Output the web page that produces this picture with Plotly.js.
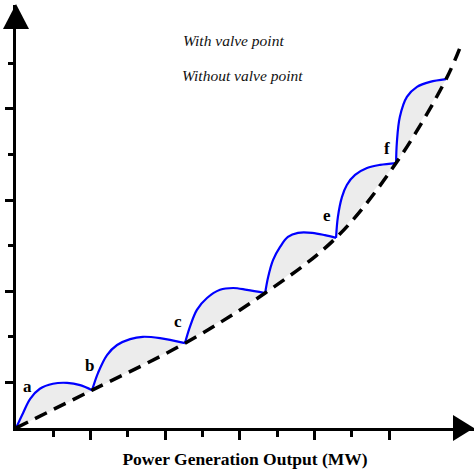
<!DOCTYPE html>
<html>
<head>
<meta charset="utf-8">
<script src="https://cdn.plot.ly/plotly-3.0.1.min.js"></script>
<style>html,body{margin:0;padding:0;background:#fff;}#chart{width:474px;height:473px;}</style>
</head>
<body>
<div id="chart"></div>
<script>
// Cost curve without valve point effect (dashed)
var dashX = [0, 2.04, 4.53, 6.68, 8.58, 10.19, 11.53, 11.96];
var dashY = [0, 0.83, 1.86, 2.96, 4.17, 5.81, 7.65, 8.46];

// Cost curve with valve point effect (blue), valve points shared with dashed curve
var blueX = [0, 0.19, 0.38, 0.64, 0.99, 1.37, 1.72, 2.04,
             2.20, 2.44, 2.71, 3.06, 3.40, 3.86, 4.53,
             4.66, 4.85, 5.12, 5.47, 5.82, 6.19, 6.68,
             6.76, 6.89, 7.08, 7.29, 7.56, 7.94, 8.28, 8.58,
             8.63, 8.74, 8.87, 9.09, 9.41, 9.76, 10.19,
             10.21, 10.29, 10.48, 10.75, 11.10, 11.53];
var blueY = [0, 0.33, 0.64, 0.86, 0.97, 0.99, 0.94, 0.83,
             1.21, 1.60, 1.82, 1.95, 2.00, 1.97, 1.86,
             2.21, 2.59, 2.85, 3.03, 3.07, 3.03, 2.96,
             3.31, 3.68, 3.97, 4.19, 4.28, 4.28, 4.23, 4.17,
             4.63, 5.07, 5.33, 5.55, 5.70, 5.77, 5.81,
             6.25, 6.82, 7.26, 7.48, 7.59, 7.65];

// Valve point labels
var labelText = ['a', 'b', 'c', 'e', 'f'];
var labelX = [0.30, 1.98, 4.34, 8.34, 9.95];
var labelY = [0.90, 1.38, 2.33, 4.65, 6.12];

// Legend texts
var legendText = ['With valve point', 'Without valve point'];
var legendX = [5.82, 6.08];
var legendY = [8.50, 7.73];

var xTitle = 'Power Generation Output (MW)';

// split the blue curve at valve points (cusps)
var cusps = dashX.slice(1, -1);
var segments = [];
var cur = {x: [blueX[0]], y: [blueY[0]]};
for (var i = 1; i < blueX.length; i++) {
  cur.x.push(blueX[i]); cur.y.push(blueY[i]);
  if (cusps.indexOf(blueX[i]) >= 0 && i < blueX.length - 1) {
    segments.push(cur);
    cur = {x: [blueX[i]], y: [blueY[i]]};
  }
}
segments.push(cur);

var traces = [];
segments.forEach(function (s) {
  traces.push({
    x: s.x, y: s.y, type: 'scatter', mode: 'lines',
    line: {shape: 'spline', width: 0, color: 'rgba(0,0,0,0)'},
    fill: 'toself', fillcolor: '#ececec', hoverinfo: 'skip', showlegend: false
  });
});
segments.forEach(function (s) {
  traces.push({
    x: s.x, y: s.y, type: 'scatter', mode: 'lines',
    line: {shape: 'spline', width: 2.2, color: '#0000ff'},
    hoverinfo: 'skip', showlegend: false
  });
});
traces.push({
  x: dashX, y: dashY, type: 'scatter', mode: 'lines',
  line: {shape: 'spline', width: 3.5, color: '#000000', dash: '13px,8px'},
  hoverinfo: 'skip', showlegend: false
});

var serif = 'Liberation Serif, Times New Roman, serif';
var annotations = [];
labelText.forEach(function (t, i) {
  annotations.push({x: labelX[i], y: labelY[i], xref: 'x', yref: 'y', text: '<b>' + t + '</b>', showarrow: false,
    font: {family: serif, size: 17, color: '#000'}});
});
legendText.forEach(function (t, i) {
  annotations.push({x: legendX[i], y: legendY[i], xref: 'x', yref: 'y', text: t, showarrow: false,
    font: {family: serif, size: 15.5, color: '#111', style: 'italic'}});
});

var W = 458, H = 423;
function px(v) { return v / W; }
function py(v) { return v / H; }
var shapes = [
  // y-axis arrow head
  {type: 'path', xref: 'paper', yref: 'paper',
   path: 'M ' + px(-13) + ' ' + py(399) + ' L ' + px(13) + ' ' + py(399) + ' L 0 ' + py(424) + ' Z',
   fillcolor: '#000', line: {width: 0}},
  // x-axis arrow head
  {type: 'path', xref: 'paper', yref: 'paper',
   path: 'M ' + px(437) + ' ' + py(13) + ' L ' + px(437) + ' ' + py(-13) + ' L 1 0 Z',
   fillcolor: '#000', line: {width: 0}}
];

var layout = {
  width: 474, height: 473,
  margin: {l: 16, r: 0, t: 5, b: 45},
  paper_bgcolor: '#fff', plot_bgcolor: '#fff',
  showlegend: false,
  xaxis: {
    range: [0, 458 / 37.3], showgrid: false, zeroline: false,
    showline: true, linewidth: 3, linecolor: '#000',
    tickmode: 'array', tickvals: [2, 4, 6, 8, 10], ticks: 'outside', ticklen: 9, tickwidth: 3, tickcolor: '#000',
    showticklabels: false,
    minor: {tickmode: 'array', tickvals: [1, 3, 5, 7, 9], ticks: 'outside', ticklen: 6, tickwidth: 3, tickcolor: '#000'},
    title: {text: '<b>' + xTitle + '</b>', standoff: 14,
      font: {family: serif, size: 17.5, color: '#000'}},
    automargin: false
  },
  yaxis: {
    range: [0, 423 / 45.6], showgrid: false, zeroline: false,
    showline: true, linewidth: 3, linecolor: '#000',
    tickmode: 'array', tickvals: [1, 3, 5, 7], ticks: 'outside', ticklen: 8, tickwidth: 3, tickcolor: '#000',
    showticklabels: false,
    minor: {tickmode: 'array', tickvals: [2, 4, 6, 8], ticks: 'outside', ticklen: 5, tickwidth: 3, tickcolor: '#000'},
    automargin: false
  },
  annotations: annotations,
  shapes: shapes
};

Plotly.newPlot('chart', traces, layout, {staticPlot: true, displayModeBar: false});
</script>
</body>
</html>
